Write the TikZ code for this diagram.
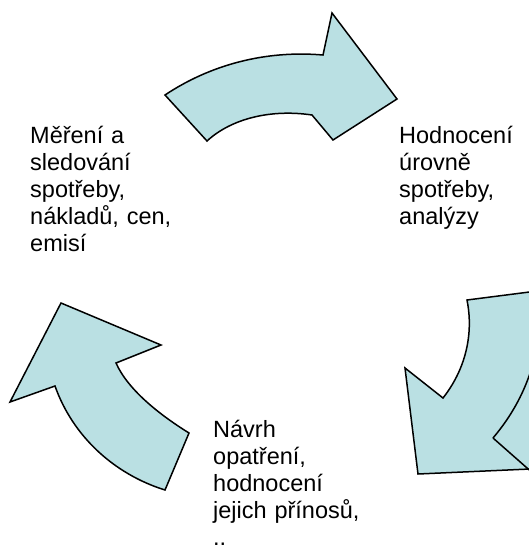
\documentclass[tikz,border=0pt]{standalone}
\usepackage{fontspec}
\setmainfont{Liberation Sans}
\definecolor{arrowfill}{RGB}{186,224,227}
\begin{document}
\begin{tikzpicture}[x=1pt,y=-1pt,
  cyc/.style={fill=arrowfill,draw=black,line width=1.5pt,line join=miter},
  edge/.style={draw=black,line width=1.5pt},
  lbl/.style={anchor=base west,inner sep=0pt,text width=150pt,align=left,
    font=\fontsize{23.5}{27}\selectfont}]
\useasboundingbox (0,0) rectangle (529,547);
\clip (0,0) rectangle (529,547);
% top arrow
\draw[cyc] (165,95) .. controls (210,65) and (265,50) .. (323,55)
  -- (332,13) -- (397,99) -- (333,140) -- (312,115)
  .. controls (272,109) and (232,118) .. (207,141) -- cycle;
% right arrow
\draw[cyc] (467,300) -- (545,290) -- (545,470) -- (530,469) -- (418,474) -- (405,368)
  -- (443,398) .. controls (465,370) and (474,335) .. (467,300) -- cycle;
\fill[arrowfill] (526,297) rectangle (545,466);
\draw[edge] (493,438) .. controls (515,412) and (532,380) .. (538,340) -- (545,300);
\draw[edge] (493,438) -- (535,475);
% left arrow
\draw[cyc] (165,490) -- (189,433) .. controls (160,415) and (128,390) .. (116,363)
  -- (161,345) -- (61,303) -- (10,402) -- (55,386)
  .. controls (72.8,436.3) and (114.1,474.1) .. (165,490) -- cycle;
% labels
\node[lbl] (t1) at (30,143) {Měření a\\sledování\\spotřeby,\\nákladů, cen,\\emisí};
\node[lbl] (t2) at (399,143) {Hodnocení\\úrovně\\spotřeby,\\analýzy};
\node[lbl] (t3) at (213,437) {Návrh\\opatření,\\hodnocení\\jejich přínosů,\\..};
\end{tikzpicture}
\end{document}
